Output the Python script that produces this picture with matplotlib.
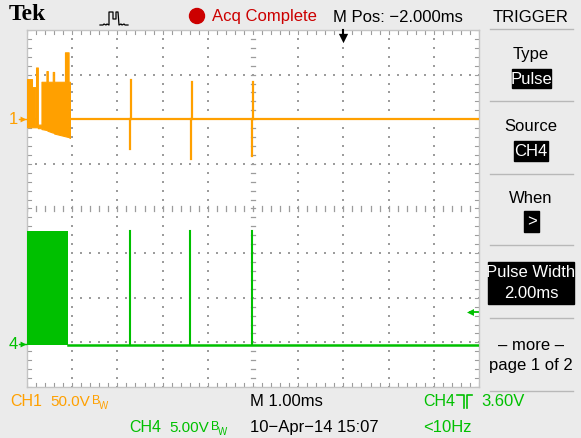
import numpy as np
import matplotlib
matplotlib.use("Agg")
import matplotlib.pyplot as plt
from matplotlib.patches import Rectangle, Circle

# CH1: 50 V/div, ground marker at +2 div ; CH4: 5 V/div, ground marker at -3.05 div
ch1_scale, ch1_pos = 50.0, 2.0
ch4_scale, ch4_pos = 5.0, -3.05

# CH1 burst envelope (time in ms, volts)
ch1_burst_t = [0.00, 0.11, 0.11, 0.18, 0.18, 0.20, 0.20, 0.24, 0.24, 0.32, 0.32, 0.43,
               0.43, 0.46, 0.46, 0.57, 0.57, 0.60, 0.60, 0.84, 0.84, 0.92, 0.92, 0.95]
ch1_burst_top = [45, 45, 36, 36, -6, -6, 58, 58, -6, -6, 42, 42,
                 54, 54, 42, 42, 53, 53, 42, 42, 75, 75, 42, 42]
ch1_burst_bot = [-9, -9, -9, -9, -9, -9, -9, -9, -10, -10, -11, -12,
                 -12, -13, -13, -15, -15, -15, -16, -19, -19, -20, -20, -21]
# CH1 isolated spikes
ch1_spike_t = [2.28, 3.63, 4.98]
ch1_spike_up = [44, 42, 42]
ch1_spike_down = [-33, -45, -41]

# CH4 burst (solid block) and isolated pulses
ch4_burst_t = [0.00, 0.91]
ch4_burst_high = 12.7
ch4_spike_t = [2.27, 3.61, 4.98]
ch4_spike_high = [12.7, 12.7, 12.7]
ch4_trig_level = 3.60

ORANGE = "#ffa000"
GREEN = "#00c000"
RED = "#cc0000"
BG = "#ebebeb"
GRID = "#9c9c9c"

W, H = 581, 439
fig = plt.figure(figsize=(W / 100, H / 100), dpi=100, facecolor=BG)

# ---------------- graticule axes ----------------
L, R, T, B = 27, 479, 31, 388
ax = fig.add_axes([L / W, (H - B) / H, (R - L) / W, (B - T) / H])
ax.set_facecolor("white")
ax.set_xlim(0, 10)
ax.set_ylim(-4, 4)
ax.set_xticks([])
ax.set_yticks([])
for s in ax.spines.values():
    s.set_color("#c4c4c4")
    s.set_linewidth(1.0)

# dotted grid
minor = np.arange(0, 10.001, 0.2)
minor_y = np.arange(-4, 4.001, 0.2)
for xg in range(1, 10):
    if xg == 5:
        continue
    ax.scatter(np.full_like(minor_y, xg), minor_y, s=2.6, color=GRID, lw=0, zorder=1, marker="s")
for yg in range(-3, 4):
    if yg == 0:
        continue
    ax.scatter(minor, np.full_like(minor, yg), s=2.6, color=GRID, lw=0, zorder=1, marker="s")
# center axes with tick dashes
for yy in minor_y:
    ax.plot([4.95, 5.05], [yy, yy], color=GRID, lw=0.9, zorder=1)
for xx in minor:
    ax.plot([xx, xx], [-0.05, 0.05], color=GRID, lw=0.9, zorder=1)
# edge ticks
for xx in minor:
    ax.plot([xx, xx], [4, 3.9], color=GRID, lw=0.8, zorder=1)
    ax.plot([xx, xx], [-4, -3.9], color=GRID, lw=0.8, zorder=1)
for yy in minor_y:
    ax.plot([0, 0.08], [yy, yy], color=GRID, lw=0.8, zorder=1)
    ax.plot([10, 9.92], [yy, yy], color=GRID, lw=0.8, zorder=1)

def y1(v):
    return ch1_pos + np.asarray(v, float) / ch1_scale

def y4(v):
    return ch4_pos + np.asarray(v, float) / ch4_scale

# CH1 trace
ax.fill_between(ch1_burst_t, y1(ch1_burst_bot), y1(ch1_burst_top), color=ORANGE, lw=0.8, zorder=3)
ax.plot([ch1_burst_t[-1], 10], y1([0, 0]), color=ORANGE, lw=1.6, zorder=3)
for t, up, dn in zip(ch1_spike_t, ch1_spike_up, ch1_spike_down):
    ax.plot([t + 0.03, t + 0.03], y1([0, up]), color=ORANGE, lw=1.6, zorder=3)
    ax.plot([t - 0.01, t - 0.01], y1([dn, 0]), color=ORANGE, lw=1.6, zorder=3)

# CH4 trace
ax.fill_between(ch4_burst_t, y4([0, 0]), y4([ch4_burst_high] * 2), color=GREEN, lw=0, zorder=3)
ax.plot([ch4_burst_t[-1], 10], y4([0, 0]), color=GREEN, lw=1.8, zorder=3)
for t, hv in zip(ch4_spike_t, ch4_spike_high):
    ax.plot([t, t], y4([0, hv]), color=GREEN, lw=1.5, zorder=3)

# ---------------- overlay (screen furniture) ----------------
ov = fig.add_axes([0, 0, 1, 1], zorder=5)
ov.set_xlim(0, W)
ov.set_ylim(H, 0)
ov.axis("off")
ov.patch.set_alpha(0)

FONT = ["Liberation Sans Narrow", "Liberation Sans", "DejaVu Sans"]
FS = 12

def txt(x, y, s, color="black", ha="left", size=FS, **kw):
    ov.text(x, y, s, color=color, ha=ha, va="center", fontsize=size, family=FONT, **kw)

# top bar
ov.text(9, 14, "Tek", fontsize=17, fontweight="bold", family=["Liberation Serif", "DejaVu Serif"],
        va="center", ha="left", color="black")
ov.plot([100, 103, 104, 106, 107, 109, 109, 113, 113, 116, 116, 118, 119, 121, 122, 124, 125, 128],
        [26, 26, 25, 26, 25, 26, 13, 13, 20, 20, 13, 13, 26, 25, 26, 25, 26, 26],
        color="black", lw=0.9)
ov.add_patch(Circle((197, 17), 7.5, color=RED))
txt(212, 17, "Acq Complete", color=RED)
txt(333, 17, "M Pos: \u22122.000ms")
txt(531, 17, "TRIGGER", ha="center")

# trigger position arrow
ov.plot([343, 343], [31, 38], color="black", lw=1.5)
ov.scatter([343], [39], marker="v", s=45, color="black", lw=0)

# channel markers
txt(9, 120, "1", color=ORANGE)
ov.scatter([23], [120], marker=">", s=18, color=ORANGE, lw=0)
ov.plot([19, 26], [120, 120], color=ORANGE, lw=1)
txt(9, 345, "4", color=GREEN)
ov.scatter([23], [345], marker=">", s=18, color=GREEN, lw=0)
ov.plot([19, 26], [345, 345], color=GREEN, lw=1)
# trigger level arrow (right edge)
trig_y = T + (4 - (ch4_pos + ch4_trig_level / ch4_scale)) * (B - T) / 8
ov.scatter([470], [trig_y], marker="<", s=25, color=GREEN, lw=0)
ov.plot([470, 478], [trig_y, trig_y], color=GREEN, lw=1.3)

# right panel
SEP = "#b8b8b8"
for yy in [30, 102, 175, 246, 319, 392]:
    ov.plot([490, 573], [yy, yy], color=SEP, lw=1)
txt(531, 54, "Type", ha="center")
ov.add_patch(Rectangle((512, 70), 39, 19, color="black"))
txt(531.5, 79.5, "Pulse", color="white", ha="center")
txt(531, 127, "Source", ha="center")
ov.add_patch(Rectangle((514, 142), 34, 20, color="black"))
txt(531, 152, "CH4", color="white", ha="center")
txt(531, 199, "When", ha="center")
ov.add_patch(Rectangle((524, 212), 15, 21, color="black"))
txt(531.5, 222, ">", color="white", ha="center")
ov.add_patch(Rectangle((488, 263), 86, 42, color="black"))
txt(531, 273, "Pulse Width", color="white", ha="center")
txt(531, 294, "2.00ms", color="white", ha="center")
txt(531, 346, "\u2013 more \u2013", ha="center")
txt(531, 366, "page 1 of 2", ha="center")

# bottom status
txt(10, 402, "CH1", color=ORANGE, size=11.5)
txt(50, 402, "50.0V", color=ORANGE, size=11)
txt(92, 401, "B", color=ORANGE, size=9)
txt(99, 406, "W", color=ORANGE, size=7)
txt(250, 402, "M 1.00ms")
txt(423, 402, "CH4", color=GREEN, size=11.5)
ov.plot([457, 464, 464], [396, 396, 409], color=GREEN, lw=1.2)
ov.plot([467, 467, 472], [409, 396, 396], color=GREEN, lw=1.2)
txt(481, 402, "3.60V", color=GREEN)
txt(129, 428, "CH4", color=GREEN, size=11.5)
txt(169, 428, "5.00V", color=GREEN, size=11)
txt(211, 427, "B", color=GREEN, size=9)
txt(218, 432, "W", color=GREEN, size=7)
txt(250, 428, "10\u2212Apr\u221214 15:07")
txt(423, 428, "<10Hz", color=GREEN)

fig.savefig("out.png", dpi=100, facecolor=BG)
